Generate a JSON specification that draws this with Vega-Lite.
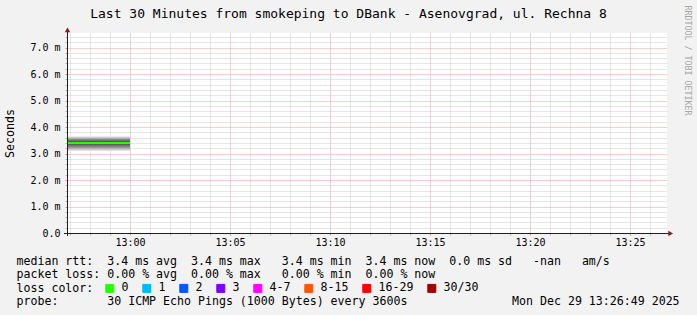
{
  "$schema": "https://vega.github.io/schema/vega-lite/v6.json",
  "width": 600,
  "height": 200,
  "autosize": {"type": "none"},
  "padding": {"left": 67, "top": 33, "right": 30, "bottom": 82},
  "background": "#f2f2f2",
  "config": {
    "view": {"fill": "#ffffff", "stroke": null},
    "font": "DejaVu Sans Mono"
  },
  "datasets": {
    "smoke": [
      {"start": "2025-12-29T12:56:51", "end": "2025-12-29T13:00:00", "pair": 1, "lo": 3.10, "hi": 3.65},
      {"start": "2025-12-29T12:56:51", "end": "2025-12-29T13:00:00", "pair": 2, "lo": 3.13, "hi": 3.62},
      {"start": "2025-12-29T12:56:51", "end": "2025-12-29T13:00:00", "pair": 3, "lo": 3.17, "hi": 3.59},
      {"start": "2025-12-29T12:56:51", "end": "2025-12-29T13:00:00", "pair": 4, "lo": 3.21, "hi": 3.56},
      {"start": "2025-12-29T12:56:51", "end": "2025-12-29T13:00:00", "pair": 5, "lo": 3.26, "hi": 3.53},
      {"start": "2025-12-29T12:56:51", "end": "2025-12-29T13:00:00", "pair": 6, "lo": 3.30, "hi": 3.49},
      {"start": "2025-12-29T12:56:51", "end": "2025-12-29T13:00:00", "pair": 7, "lo": 3.35, "hi": 3.45},
      {"start": "2025-12-29T12:56:51", "end": "2025-12-29T13:00:00", "pair": 8, "lo": 3.38, "hi": 3.42}
    ],
    "median": [
      {"start": "2025-12-29T12:56:51", "end": "2025-12-29T13:00:00", "rtt": 3.4, "loss": "0"}
    ]
  },
  "resolve": {"axis": {"x": "independent", "y": "independent"}},
  "layer": [
    {
      "data": {"name": "smoke"},
      "mark": {"type": "rect"},
      "encoding": {
        "x": {
          "field": "start", "type": "temporal",
          "scale": {"domain": [
            {"year": 2025, "month": 12, "date": 29, "hours": 12, "minutes": 56, "seconds": 51},
            {"year": 2025, "month": 12, "date": 29, "hours": 13, "minutes": 26, "seconds": 51}
          ]},
          "axis": {
            "orient": "bottom",
            "values": [
              {"year": 2025, "month": 12, "date": 29, "hours": 12, "minutes": 57},
              {"year": 2025, "month": 12, "date": 29, "hours": 12, "minutes": 58},
              {"year": 2025, "month": 12, "date": 29, "hours": 12, "minutes": 59},
              {"year": 2025, "month": 12, "date": 29, "hours": 13, "minutes": 0},
              {"year": 2025, "month": 12, "date": 29, "hours": 13, "minutes": 1},
              {"year": 2025, "month": 12, "date": 29, "hours": 13, "minutes": 2},
              {"year": 2025, "month": 12, "date": 29, "hours": 13, "minutes": 3},
              {"year": 2025, "month": 12, "date": 29, "hours": 13, "minutes": 4},
              {"year": 2025, "month": 12, "date": 29, "hours": 13, "minutes": 5},
              {"year": 2025, "month": 12, "date": 29, "hours": 13, "minutes": 6},
              {"year": 2025, "month": 12, "date": 29, "hours": 13, "minutes": 7},
              {"year": 2025, "month": 12, "date": 29, "hours": 13, "minutes": 8},
              {"year": 2025, "month": 12, "date": 29, "hours": 13, "minutes": 9},
              {"year": 2025, "month": 12, "date": 29, "hours": 13, "minutes": 10},
              {"year": 2025, "month": 12, "date": 29, "hours": 13, "minutes": 11},
              {"year": 2025, "month": 12, "date": 29, "hours": 13, "minutes": 12},
              {"year": 2025, "month": 12, "date": 29, "hours": 13, "minutes": 13},
              {"year": 2025, "month": 12, "date": 29, "hours": 13, "minutes": 14},
              {"year": 2025, "month": 12, "date": 29, "hours": 13, "minutes": 15},
              {"year": 2025, "month": 12, "date": 29, "hours": 13, "minutes": 16},
              {"year": 2025, "month": 12, "date": 29, "hours": 13, "minutes": 17},
              {"year": 2025, "month": 12, "date": 29, "hours": 13, "minutes": 18},
              {"year": 2025, "month": 12, "date": 29, "hours": 13, "minutes": 19},
              {"year": 2025, "month": 12, "date": 29, "hours": 13, "minutes": 20},
              {"year": 2025, "month": 12, "date": 29, "hours": 13, "minutes": 21},
              {"year": 2025, "month": 12, "date": 29, "hours": 13, "minutes": 22},
              {"year": 2025, "month": 12, "date": 29, "hours": 13, "minutes": 23},
              {"year": 2025, "month": 12, "date": 29, "hours": 13, "minutes": 24},
              {"year": 2025, "month": 12, "date": 29, "hours": 13, "minutes": 25},
              {"year": 2025, "month": 12, "date": 29, "hours": 13, "minutes": 26}
            ],
            "labelExpr": "minutes(datum.value) % 5 === 0 ? timeFormat(datum.value, '%H:%M') : ''",
            "labelFont": "DejaVu Sans Mono", "labelFontSize": 10, "labelColor": "#000000",
            "labelPadding": 2, "labelOverlap": false, "labelFlush": false, "labelBound": false,
            "domain": false,
            "ticks": true, "tickSize": 2,
            "tickColor": {"condition": {"test": "minutes(datum.value) % 5 === 0", "value": "#e08a8a"}, "value": "#b4b4b4"},
            "grid": true,
            "gridColor": {"condition": {"test": "minutes(datum.value) % 5 === 0", "value": "#eaa0a0"}, "value": "#cdcdcd"},
            "gridDash": [1, 1], "gridWidth": 1,
            "title": [
              "median rtt:\u00a0\u00a03.4 ms avg\u00a0\u00a03.4 ms max\u00a0\u00a0\u00a03.4 ms min\u00a0\u00a03.4 ms now\u00a0\u00a00.0 ms sd\u00a0\u00a0\u00a0-nan\u00a0\u00a0\u00a0am/s",
              "packet loss: 0.00 % avg\u00a0\u00a00.00 % max\u00a0\u00a0\u00a00.00 % min\u00a0\u00a00.00 % now",
              "loss color:",
              "probe:\u00a0\u00a0\u00a0\u00a0\u00a0\u00a0\u00a030 ICMP Echo Pings (1000 Bytes) every 3600s\u00a0\u00a0\u00a0\u00a0\u00a0\u00a0\u00a0\u00a0\u00a0\u00a0\u00a0\u00a0\u00a0\u00a0\u00a0Mon Dec 29 13:26:49 2025"
            ],
            "titleFont": "DejaVu Sans Mono", "titleFontSize": 11.6, "titleFontWeight": "normal", "titleColor": "#000000",
            "titleAlign": "left", "titleAnchor": "start", "titleBaseline": "alphabetic",
            "titleX": -51, "titleY": 31, "titleLineHeight": 13.6
          }
        },
        "x2": {"field": "end"},
        "y": {
          "field": "lo", "type": "quantitative",
          "scale": {"domain": [0, 7.55], "nice": false, "zero": true},
          "axis": {
            "orient": "left",
            "values": [0, 0.2, 0.4, 0.6, 0.8, 1, 1.2, 1.4, 1.6, 1.8, 2, 2.2, 2.4, 2.6, 2.8, 3, 3.2, 3.4, 3.6, 3.8, 4, 4.2, 4.4, 4.6, 4.8, 5, 5.2, 5.4, 5.6, 5.8, 6, 6.2, 6.4, 6.6, 6.8, 7, 7.2, 7.4],
            "labelExpr": "abs(datum.value - round(datum.value)) < 0.01 ? (datum.value < 0.5 ? '0.0' : format(datum.value, '.1f') + ' m') : ''",
            "labelFont": "DejaVu Sans Mono", "labelFontSize": 10, "labelColor": "#000000",
            "labelPadding": 5, "labelOverlap": false, "labelFlush": false, "labelBound": false,
            "domain": false,
            "ticks": true, "tickSize": 2,
            "tickColor": {"condition": {"test": "abs(datum.value - round(datum.value)) < 0.01", "value": "#e08a8a"}, "value": "#b4b4b4"},
            "grid": true,
            "gridColor": {"condition": {"test": "abs(datum.value - round(datum.value)) < 0.01", "value": "#eaa0a0"}, "value": "#cdcdcd"},
            "gridDash": [1, 1], "gridWidth": 1,
            "title": "Seconds",
            "titleFont": "DejaVu Sans Mono", "titleFontSize": 11.6, "titleFontWeight": "normal", "titleColor": "#000000",
            "titleAngle": 270, "titleX": -57, "titleY": 100, "titleAlign": "center", "titleBaseline": "middle"
          }
        },
        "y2": {"field": "hi"},
        "fill": {
          "field": "pair", "type": "ordinal",
          "scale": {"range": ["#e3e3e3", "#cacaca", "#b1b1b1", "#979797", "#7e7e7e", "#646464", "#4b4b4b", "#323232"]},
          "legend": null
        }
      }
    },
    {
      "data": {"name": "median"},
      "mark": {"type": "rule", "strokeWidth": 2},
      "encoding": {
        "x": {"field": "start", "type": "temporal", "axis": null},
        "x2": {"field": "end"},
        "y": {"field": "rtt", "type": "quantitative", "axis": null},
        "color": {
          "field": "loss", "type": "nominal",
          "scale": {
            "domain": ["0", "1", "2", "3", "4-7", "8-15", "16-29", "30/30"],
            "range": ["#26ff00", "#00b8ff", "#0059ff", "#7e00ff", "#ff00ff", "#ff5500", "#ff0000", "#a10000"]
          },
          "legend": {
            "orient": "none", "legendX": 37, "legendY": 249.5,
            "direction": "horizontal", "columns": 8, "title": null, "padding": 0,
            "symbolType": "square", "symbolSize": 64, "symbolStrokeColor": "#000000", "symbolStrokeWidth": 1, "symbolOpacity": 1,
            "labelFont": "DejaVu Sans Mono", "labelFontSize": 11.6, "labelColor": "#000000", "labelOffset": 6,
            "columnPadding": 11,
            "encode": {
              "symbols": {
                "update": {
                  "fill": {"scale": "color", "field": "value"},
                  "stroke": {"value": "#000000"},
                  "strokeWidth": {"value": 1},
                  "shape": {"value": "square"},
                  "opacity": {"value": 1}
                }
              }
            }
          }
        }
      }
    },
    {
      "data": {"values": [{}]},
      "mark": {"type": "rule", "color": "#1f1f1f", "strokeWidth": 1},
      "encoding": {
        "x": {"datum": {"year": 2025, "month": 12, "date": 29, "hours": 12, "minutes": 56, "seconds": 42}, "type": "temporal", "axis": null},
        "x2": {"datum": {"year": 2025, "month": 12, "date": 29, "hours": 13, "minutes": 27, "seconds": 0}},
        "y": {"datum": -0.0189, "type": "quantitative", "axis": null}
      }
    },
    {
      "data": {"values": [{}]},
      "mark": {"type": "rule", "color": "#1f1f1f", "strokeWidth": 1},
      "encoding": {
        "x": {"datum": {"year": 2025, "month": 12, "date": 29, "hours": 12, "minutes": 56, "seconds": 52, "milliseconds": 500}, "type": "temporal", "axis": null},
        "y": {"datum": -0.11, "type": "quantitative", "axis": null},
        "y2": {"datum": 7.62}
      }
    },
    {
      "data": {"values": [{}]},
      "mark": {"type": "point", "shape": "triangle-right", "filled": true, "color": "#801f1f", "size": 30, "opacity": 1},
      "encoding": {
        "x": {
          "datum": {"year": 2025, "month": 12, "date": 29, "hours": 13, "minutes": 27, "seconds": 2},
          "type": "temporal",
          "axis": {
            "orient": "top", "domain": false, "ticks": false, "labels": false, "grid": false,
            "title": "Last 30 Minutes from smokeping to DBank - Asenovgrad, ul. Rechna 8",
            "titleFont": "DejaVu Sans Mono", "titleFontSize": 13, "titleFontWeight": "normal", "titleColor": "#000000",
            "titleX": 281, "titleY": -15.5, "titleAlign": "center", "titleBaseline": "alphabetic"
          }
        },
        "y": {
          "datum": -0.0189, "type": "quantitative",
          "axis": {
            "orient": "right", "domain": false, "ticks": false, "labels": false, "grid": false,
            "title": "RRDTOOL / TOBI OETIKER",
            "titleFont": "DejaVu Sans Mono", "titleFontSize": 8.3, "titleFontWeight": "normal", "titleColor": "#a6a6a6",
            "titleAngle": 90, "titleX": 19, "titleY": -28, "titleAlign": "left", "titleBaseline": "middle"
          }
        }
      }
    },
    {
      "data": {"values": [{}]},
      "mark": {"type": "point", "shape": "triangle-up", "filled": true, "color": "#801f1f", "size": 30, "opacity": 1},
      "encoding": {
        "x": {"datum": {"year": 2025, "month": 12, "date": 29, "hours": 12, "minutes": 56, "seconds": 52, "milliseconds": 500}, "type": "temporal", "axis": null},
        "y": {"datum": 7.67, "type": "quantitative", "axis": null}
      }
    }
  ]
}
